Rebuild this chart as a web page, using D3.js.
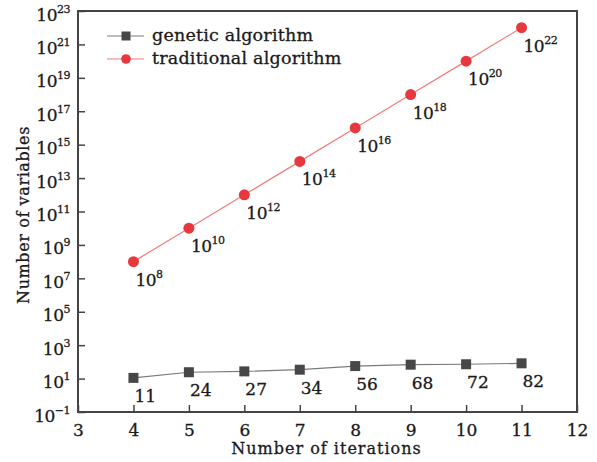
<!DOCTYPE html>
<html><head><meta charset="utf-8">
<script src="https://cdn.jsdelivr.net/npm/d3@7"></script>
<style>
body{margin:0;background:#fff}
text{font-family:"DejaVu Serif",serif;fill:#1a1a1a;stroke:#1a1a1a;stroke-width:0.3px}
</style>
</head><body>
<svg id="chart" width="597" height="462"></svg>
<script>
// Number of iterations (x) versus number of variables (y, log scale)
const iterations = [4, 5, 6, 7, 8, 9, 10, 11];
const geneticVars = [11, 24, 27, 34, 56, 68, 72, 82];
const traditionalVars = [1e8, 1e10, 1e12, 1e14, 1e16, 1e18, 1e20, 1e22];
const xTicks = [3, 4, 5, 6, 7, 8, 9, 10, 11, 12];
const yTickExps = [-1, 1, 3, 5, 7, 9, 11, 13, 15, 17, 19, 21, 23];
const seriesNames = ["genetic algorithm", "traditional algorithm"];

const svg = d3.select("#chart");
const m = {left: 78, right: 577, top: 11, bottom: 412};

const x = d3.scaleLinear().domain([3, 12]).range([m.left, m.right]);
const y = d3.scaleLog().domain([1e-1, 1e23]).range([m.bottom, m.top]);

const axisColor = "#444";

// x axis with inward ticks
const gx = svg.append("g").attr("transform", `translate(0,${m.bottom})`)
  .call(d3.axisBottom(x).tickValues(xTicks).tickSize(-7).tickPadding(12).tickFormat(d3.format("d")));
gx.select(".domain").remove();
gx.selectAll(".tick line").attr("stroke", axisColor).attr("stroke-width", 1.5);
gx.selectAll(".tick text").attr("font-size", 17).attr("font-family", "DejaVu Serif").attr("fill", "#1a1a1a");

// y axis with inward ticks and power-of-ten labels
const gy = svg.append("g").attr("transform", `translate(${m.left},0)`)
  .call(d3.axisLeft(y).tickValues(yTickExps.map(e => Math.pow(10, e))).tickSize(-7).tickFormat(""));
gy.select(".domain").remove();
gy.selectAll(".tick line").attr("stroke", axisColor).attr("stroke-width", 1.5);
gy.selectAll(".tick").each(function(d, i) {
  const t = d3.select(this).append("text")
    .attr("x", -8).attr("y", 9).attr("text-anchor", "end").attr("font-size", 17)
    .attr("letter-spacing", -0.5);
  t.append("tspan").text("10");
  t.append("tspan").attr("font-size", 11).attr("dy", -8)
    .text(String(yTickExps[i]).replace("-", "\u2212"));
});

// frame
svg.append("rect").attr("x", m.left).attr("y", m.top)
  .attr("width", m.right - m.left).attr("height", m.bottom - m.top)
  .attr("fill", "none").attr("stroke", axisColor).attr("stroke-width", 2);

// axis titles
svg.append("text").attr("x", (m.left + m.right) / 2 - 1).attr("y", 454)
  .attr("text-anchor", "middle").attr("font-size", 16).attr("letter-spacing", 1)
  .text("Number of iterations");
svg.append("text").attr("transform", "translate(29,215) rotate(-90)")
  .attr("text-anchor", "middle").attr("font-size", 16).attr("letter-spacing", 0.6)
  .text("Number of variables");

const line = d3.line().x((d, i) => x(iterations[i])).y(d => y(d));

// genetic algorithm series
svg.append("path").datum(geneticVars).attr("d", line)
  .attr("fill", "none").attr("stroke", "#7a7a7a").attr("stroke-width", 1.2);
svg.selectAll(".gm").data(geneticVars).join("rect")
  .attr("x", (d, i) => x(iterations[i]) - 5).attr("y", d => y(d) - 5)
  .attr("width", 10).attr("height", 10).attr("fill", "#474747");
svg.selectAll(".gl").data(geneticVars).join("text")
  .attr("x", (d, i) => x(iterations[i]) + 1).attr("y", d => y(d) + 24)
  .attr("font-size", 17).text(d => d);

// traditional algorithm series
svg.append("path").datum(traditionalVars).attr("d", line)
  .attr("fill", "none").attr("stroke", "#f27b7b").attr("stroke-width", 1.2);
svg.selectAll(".tm").data(traditionalVars).join("circle")
  .attr("cx", (d, i) => x(iterations[i])).attr("cy", d => y(d))
  .attr("r", 5.5).attr("fill", "#e8383d");
svg.selectAll(".tl").data(traditionalVars).join("text")
  .attr("x", (d, i) => x(iterations[i]) + 2).attr("y", d => y(d) + 24)
  .attr("font-size", 17).attr("letter-spacing", -0.5)
  .each(function(d) {
    const t = d3.select(this);
    t.append("tspan").text("10");
    t.append("tspan").attr("font-size", 11).attr("dy", -8).text(Math.round(Math.log10(d)));
  });

// legend
const legend = svg.append("g");
const rows = [36, 59];
legend.append("line").attr("x1", 107).attr("x2", 144).attr("y1", rows[0]).attr("y2", rows[0])
  .attr("stroke", "#7a7a7a").attr("stroke-width", 1.2);
legend.append("rect").attr("x", 126 - 4.5).attr("y", rows[0] - 4.5).attr("width", 9).attr("height", 9)
  .attr("fill", "#474747");
legend.append("line").attr("x1", 107).attr("x2", 144).attr("y1", rows[1]).attr("y2", rows[1])
  .attr("stroke", "#f27b7b").attr("stroke-width", 1.2);
legend.append("circle").attr("cx", 126).attr("cy", rows[1]).attr("r", 4.8).attr("fill", "#e8383d");
legend.selectAll(".lt").data(seriesNames).join("text")
  .attr("x", 152).attr("y", (d, i) => rows[i] + 5).attr("font-size", 17.5)
  .attr("letter-spacing", 0.2).text(d => d);
</script>
</body></html>
